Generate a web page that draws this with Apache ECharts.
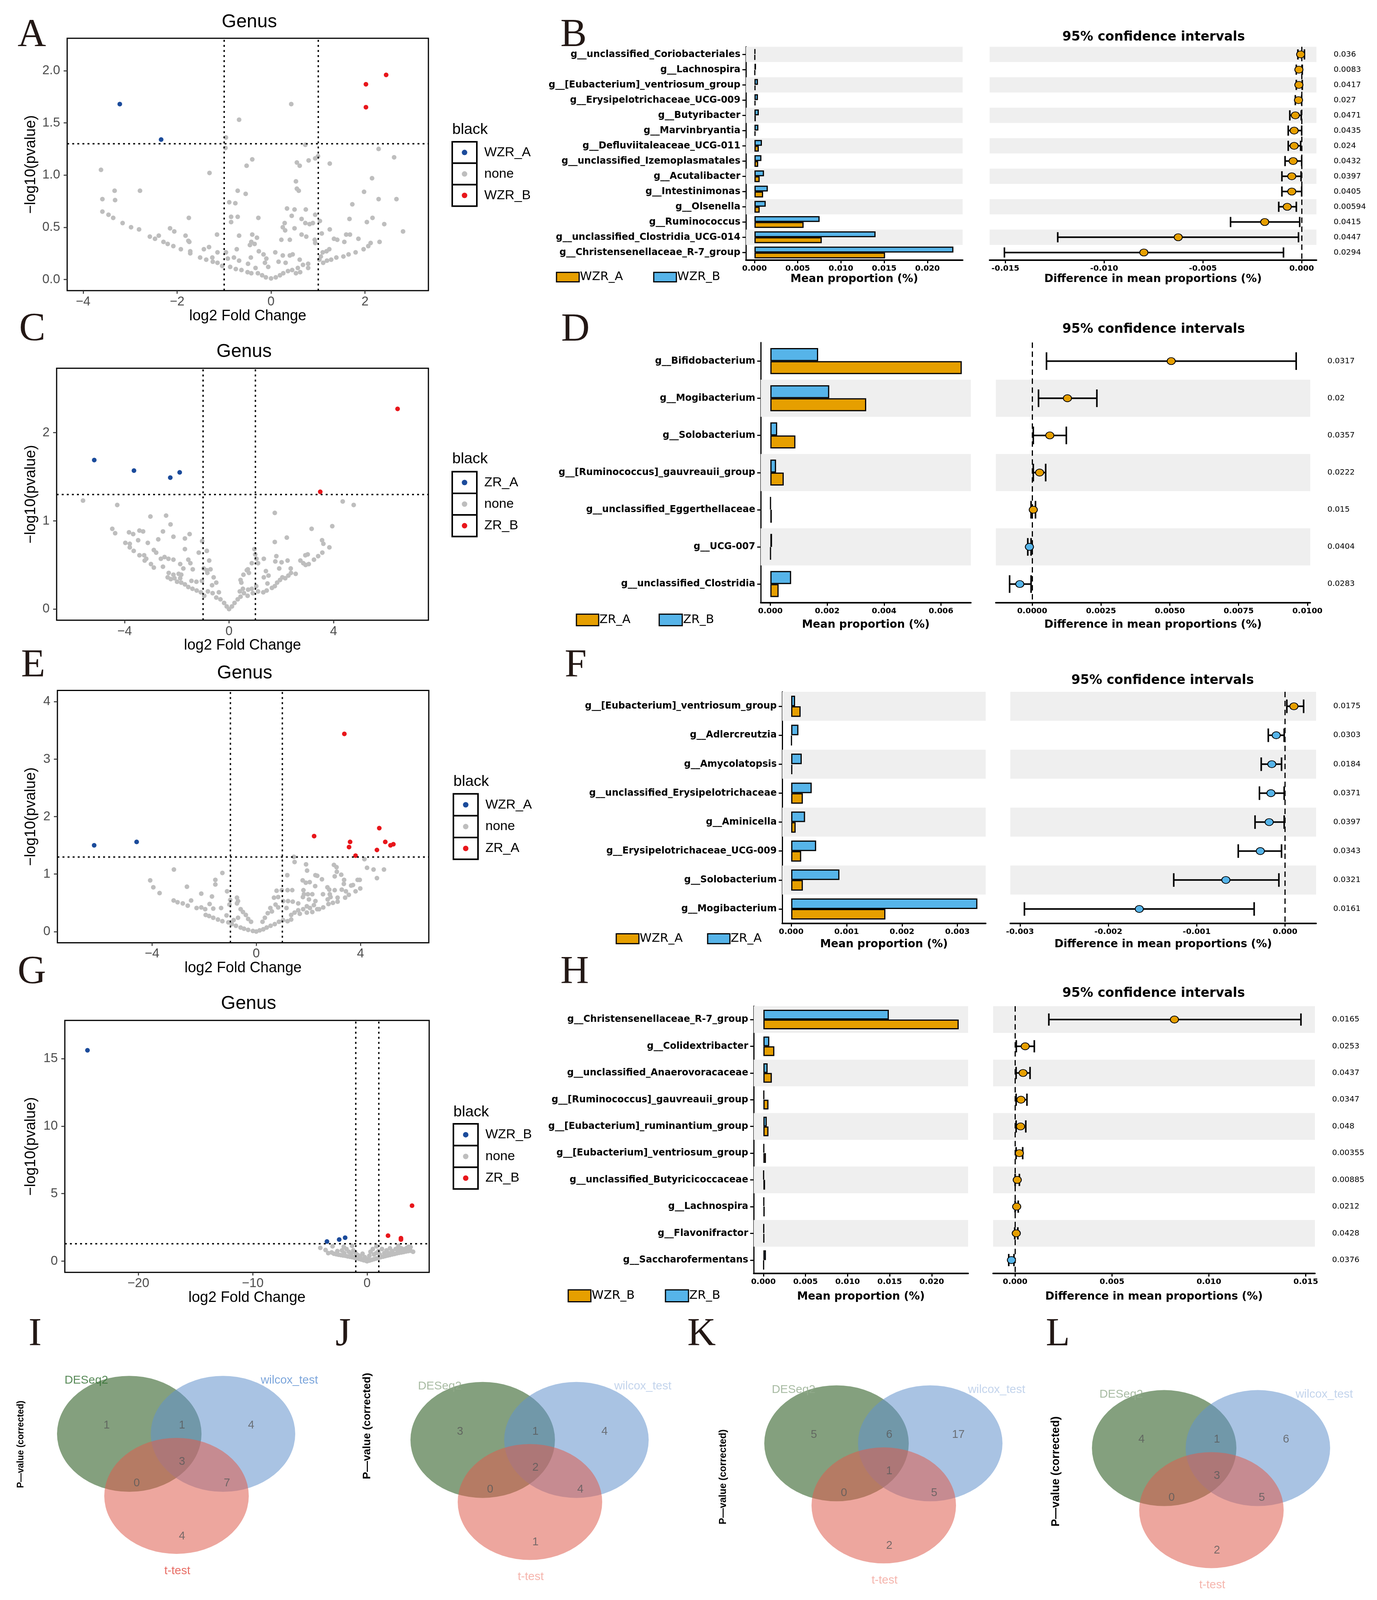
<!DOCTYPE html>
<html lang="en" style="height: 100%">
<head>
    <meta charset="UTF-8">
    <title>Genus differential abundance</title>
    <script src="https://cdn.jsdelivr.net/npm/echarts@6.0.0/dist/echarts.min.js"></script>
</head>
<body style="margin: 0; height: 100%; overflow: hidden">
<div id="main" style="width: 3526px; height: 100%"></div>
<script>
    // ---------- volcano plots (log2 fold change, -log10 p) ----------
    var volA_gray = [[0.43,1.68],[-0.68,1.53],[-0.96,1.36],[-0.97,1.26],[0.73,1.29],[2.29,1.25],[2.62,1.17],[1.0,1.18],[0.94,1.16],[0.80,1.14],[1.25,1.11],[-0.40,1.15],[-0.52,1.09],[0.55,1.12],[0.61,1.09],[-3.62,1.05],[-1.31,1.02],[2.15,0.97],[0.53,0.94],[-3.33,0.85],[-2.79,0.85],[0.55,0.87],[0.59,0.85],[-0.71,0.85],[-0.54,0.82],[1.98,0.84],[-3.59,0.77],[-3.32,0.76],[2.29,0.77],[2.67,0.77],[-0.89,0.74],[-0.76,0.73],[1.73,0.72],[0.34,0.68],[0.50,0.67],[0.74,0.67],[-3.59,0.65],[-3.46,0.62],[-3.36,0.59],[-1.75,0.59],[-0.85,0.60],[-0.71,0.60],[-0.27,0.59],[0.44,0.61],[0.65,0.58],[0.94,0.62],[1.04,0.56],[1.67,0.58],[2.16,0.59],[2.04,0.55],[2.41,0.53],[2.81,0.46],[-3.16,0.54],[-2.98,0.50],[-2.81,0.48],[-0.85,0.55],[0.29,0.54],[0.73,0.54],[0.89,0.54],[0.82,0.53],[0.25,0.50],[0.30,0.47],[0.50,0.49],[1.25,0.48],[-2.15,0.49],[-2.06,0.46],[-2.58,0.41],[-2.47,0.39],[-2.39,0.42],[-1.82,0.42],[-1.15,0.43],[-0.68,0.42],[-0.40,0.43],[-0.30,0.40],[0.65,0.43],[0.75,0.41],[1.08,0.44],[1.60,0.43],[1.68,0.43],[1.86,0.39],[2.12,0.35],[2.31,0.36],[1.34,0.39],[1.41,0.38],[1.56,0.36],[-2.29,0.36],[-2.20,0.34],[-2.08,0.32],[-1.92,0.29],[-1.76,0.37],[-1.74,0.36],[-1.72,0.27],[-1.72,0.25],[-1.43,0.29],[-1.32,0.31],[-0.42,0.36],[-0.45,0.33],[-0.35,0.34],[0.22,0.38],[0.40,0.38],[0.93,0.38],[0.94,0.35],[1.24,0.29],[1.18,0.27],[1.97,0.29],[2.07,0.32],[1.80,0.26],[1.65,0.24],[1.54,0.22],[1.39,0.21],[1.28,0.19],[1.19,0.18],[1.11,0.16],[1.03,0.19],[1.10,0.26],[1.06,0.22],[-0.73,0.29],[-0.96,0.26],[-1.14,0.26],[-1.51,0.21],[-1.38,0.19],[-1.24,0.17],[-1.14,0.16],[-1.04,0.13],[-1.25,0.21],[-0.92,0.20],[-0.79,0.21],[-0.68,0.18],[-0.87,0.12],[-0.75,0.10],[-0.63,0.09],[-0.50,0.07],[-0.42,0.06],[-0.28,0.06],[-0.19,0.04],[-0.11,0.02],[0.0,0.01],[0.10,0.02],[0.19,0.04],[0.26,0.06],[0.36,0.08],[0.45,0.09],[0.57,0.11],[0.68,0.14],[0.79,0.11],[0.79,0.15],[-0.26,0.27],[-0.16,0.24],[-0.10,0.20],[-0.13,0.16],[-0.06,0.12],[0.09,0.26],[0.16,0.17],[0.25,0.23],[0.31,0.16],[0.40,0.23],[0.46,0.24],[0.61,0.19],[-0.49,0.15],[-0.43,0.21],[-0.33,0.11],[0.53,0.06],[0.62,0.07]];
    var volA_WZR_A = [[-3.22,1.68],[-2.34,1.34]];
    var volA_WZR_B = [[2.02,1.87],[2.45,1.96],[2.02,1.65]];

    var volC_gray = [[-5.59,1.23],[-4.28,1.18],[4.35,1.22],[4.77,1.18],[1.75,1.09],[-3.01,1.05],[-2.41,1.06],[-2.24,0.96],[-4.47,0.91],[-4.36,0.86],[-3.83,0.87],[-3.67,0.85],[-3.43,0.89],[-3.29,0.88],[-2.53,0.88],[-2.13,0.82],[-1.69,0.80],[-1.51,0.85],[3.16,0.91],[3.95,0.94],[2.21,0.81],[1.75,0.76],[3.56,0.78],[3.61,0.74],[3.84,0.70],[-1.03,0.77],[-3.48,0.78],[-2.71,0.79],[-3.97,0.75],[-3.80,0.74],[-3.80,0.70],[-3.11,0.75],[-3.65,0.66],[-2.88,0.67],[-2.79,0.64],[-1.69,0.68],[-1.16,0.64],[-0.85,0.66],[0.97,0.68],[1.00,0.62],[-3.43,0.61],[-3.25,0.61],[-3.17,0.57],[-3.23,0.55],[-2.61,0.57],[-2.47,0.59],[-2.32,0.57],[-2.13,0.56],[-1.56,0.56],[-1.48,0.52],[-0.76,0.55],[1.05,0.57],[1.33,0.57],[1.81,0.60],[1.77,0.54],[2.01,0.53],[2.24,0.55],[2.73,0.55],[2.92,0.61],[3.01,0.62],[3.41,0.60],[3.57,0.64],[3.25,0.56],[2.84,0.52],[2.93,0.50],[3.05,0.51],[0.87,0.52],[1.11,0.52],[-2.99,0.51],[-2.88,0.47],[-2.53,0.48],[-1.87,0.51],[-1.75,0.46],[-1.39,0.45],[-0.97,0.46],[-0.85,0.44],[-0.71,0.45],[0.72,0.45],[0.76,0.41],[1.41,0.43],[1.92,0.46],[2.36,0.46],[2.55,0.40],[-2.31,0.41],[-2.13,0.39],[-1.93,0.40],[-1.83,0.39],[-2.35,0.36],[-2.23,0.34],[-2.09,0.35],[-1.87,0.35],[-1.99,0.31],[-1.83,0.30],[-1.69,0.28],[-1.56,0.25],[-1.40,0.23],[-1.24,0.21],[-1.08,0.19],[-0.95,0.15],[-1.44,0.32],[-1.25,0.31],[-1.04,0.32],[-0.83,0.41],[-0.59,0.36],[-0.49,0.30],[-0.65,0.27],[-0.81,0.20],[-0.63,0.18],[-0.39,0.19],[-0.49,0.13],[-0.33,0.11],[-0.19,0.07],[-0.09,0.03],[0.0,0.0],[0.11,0.03],[0.21,0.07],[0.33,0.11],[0.44,0.14],[0.57,0.18],[0.41,0.20],[0.53,0.23],[0.73,0.22],[0.87,0.23],[0.71,0.15],[0.91,0.18],[1.11,0.20],[1.31,0.19],[1.44,0.21],[1.64,0.24],[1.75,0.26],[1.84,0.30],[1.95,0.33],[2.04,0.36],[2.15,0.35],[2.27,0.38],[2.37,0.41],[0.47,0.30],[0.55,0.39],[0.68,0.44],[1.47,0.29],[1.51,0.38],[1.33,0.36],[0.44,0.33],[1.04,0.26]];
    var volC_ZR_A = [[-5.16,1.69],[-3.64,1.57],[-2.25,1.49],[-1.89,1.55]];
    var volC_ZR_B = [[6.45,2.27],[3.49,1.33]];

    var volE_gray = [[1.44,1.30],[1.47,1.21],[4.15,1.26],[1.91,1.17],[2.98,1.16],[3.08,1.12],[1.95,1.06],[4.25,1.11],[4.50,1.08],[4.90,1.08],[-3.16,1.08],[-1.30,1.02],[3.09,1.04],[3.26,0.99],[1.19,0.98],[2.27,0.98],[2.34,0.97],[3.01,0.96],[2.52,0.91],[3.37,0.90],[3.89,0.90],[3.97,0.90],[4.63,0.93],[-4.07,0.89],[-1.57,0.90],[1.78,0.89],[1.90,0.85],[2.05,0.86],[-1.57,0.82],[-3.95,0.77],[-2.66,0.78],[2.26,0.79],[2.73,0.77],[3.36,0.83],[3.64,0.80],[3.71,0.81],[3.99,0.75],[-3.71,0.67],[-2.11,0.66],[-1.12,0.70],[0.78,0.71],[0.98,0.72],[1.20,0.72],[1.38,0.72],[1.81,0.72],[2.80,0.73],[3.01,0.72],[3.28,0.73],[3.44,0.70],[3.55,0.64],[3.81,0.70],[1.83,0.65],[1.98,0.65],[2.15,0.65],[2.56,0.65],[2.82,0.65],[-1.70,0.61],[-0.74,0.59],[0.68,0.59],[0.84,0.60],[1.79,0.60],[2.85,0.60],[3.12,0.59],[3.41,0.59],[-1.0,0.55],[-0.70,0.53],[1.03,0.53],[1.22,0.53],[1.40,0.52],[2.02,0.56],[2.27,0.53],[2.74,0.56],[3.12,0.52],[-3.17,0.54],[-3.02,0.51],[-2.82,0.49],[-2.63,0.45],[-2.50,0.54],[-1.79,0.48],[-1.03,0.47],[-2.29,0.41],[-2.11,0.42],[-1.96,0.39],[-1.65,0.40],[-1.35,0.41],[-0.74,0.49],[0.74,0.47],[0.84,0.42],[1.16,0.41],[1.61,0.49],[1.94,0.44],[2.06,0.41],[2.21,0.46],[2.34,0.39],[2.57,0.42],[2.77,0.48],[2.94,0.50],[1.80,0.39],[1.61,0.37],[1.47,0.33],[1.34,0.29],[1.67,0.31],[1.94,0.33],[2.15,0.34],[2.41,0.39],[-1.94,0.29],[-1.81,0.27],[-1.65,0.24],[-1.47,0.21],[-1.30,0.18],[-1.14,0.28],[-1.07,0.16],[-0.94,0.13],[-0.78,0.10],[-0.60,0.07],[-0.47,0.05],[-0.31,0.03],[-0.13,0.01],[0.0,0.0],[0.13,0.02],[0.27,0.04],[0.40,0.07],[0.55,0.10],[0.71,0.13],[0.87,0.17],[1.03,0.20],[1.20,0.18],[1.34,0.21],[-0.60,0.39],[-0.51,0.34],[-0.40,0.29],[-0.31,0.22],[-0.20,0.17],[0.33,0.24],[0.44,0.32],[0.54,0.41],[0.60,0.35],[0.24,0.17],[-0.70,0.24],[-0.87,0.20]];
    var volE_WZR_A = [[-6.22,1.50],[-4.59,1.56]];
    var volE_ZR_A = [[3.38,3.44],[2.22,1.66],[4.72,1.80],[3.60,1.56],[3.56,1.47],[4.95,1.56],[4.63,1.42],[5.15,1.50],[5.26,1.52],[3.81,1.32]];

    var volG_gray = [[-4.09,0.99],[-3.63,0.83],[-3.02,1.10],[-2.04,1.07],[-1.31,1.14],[0.82,1.10],[2.74,1.14],[3.63,1.07],[4.02,0.70],[-3.1,0.65],[-2.9,0.55],[-2.7,0.52],[-2.5,0.48],[-2.3,0.45],[-2.1,0.42],[-1.9,0.40],[-1.7,0.36],[-1.5,0.33],[-1.3,0.30],[-1.1,0.26],[-0.9,0.22],[-0.7,0.17],[-0.5,0.12],[-0.3,0.07],[-0.1,0.03],[0.0,0.0],[0.2,0.05],[0.4,0.10],[0.6,0.15],[0.8,0.20],[1.0,0.25],[1.2,0.30],[1.4,0.34],[1.6,0.38],[1.8,0.42],[2.0,0.46],[2.2,0.50],[2.4,0.54],[2.6,0.58],[2.8,0.62],[3.0,0.65],[3.2,0.68],[3.4,0.72],[3.6,0.75],[3.8,0.78],[-2.6,0.75],[-2.2,0.80],[-1.8,0.90],[-1.6,0.70],[-1.4,0.55],[-1.2,0.80],[-1.0,0.60],[-0.8,0.45],[-0.6,0.35],[-0.4,0.55],[-0.2,0.30],[0.2,0.40],[0.3,0.70],[0.5,0.90],[0.6,0.50],[0.8,0.60],[1.0,0.75],[1.3,0.90],[1.5,0.60],[1.7,0.80],[2.0,0.95],[2.2,0.75],[2.5,0.90],[2.7,0.85],[3.0,0.95],[3.3,0.90],[3.5,1.00],[3.8,1.05],[-3.4,0.60],[-2.0,0.60],[-1.0,0.40],[0.1,0.15],[1.1,0.50],[1.9,0.60],[2.9,0.80]];
    var volG_WZR_B = [[-24.45,15.61],[-3.51,1.46],[-2.44,1.60],[-1.92,1.74]];
    var volG_ZR_B = [[3.93,4.11],[1.83,1.89],[2.96,1.70],[2.96,1.60]];

    // ---------- extended error bar plots ----------
    var stampB_names = ['g__unclassified_Coriobacteriales','g__Lachnospira','g__[Eubacterium]_ventriosum_group','g__Erysipelotrichaceae_UCG-009','g__Butyribacter','g__Marvinbryantia','g__Defluviitaleaceae_UCG-011','g__unclassified_Izemoplasmatales','g__Acutalibacter','g__Intestinimonas','g__Olsenella','g__Ruminococcus','g__unclassified_Clostridia_UCG-014','g__Christensenellaceae_R-7_group'];
    var stampB_WZR_A = [0.00008,0.00008,0.00012,0.00012,0.00015,0.00012,0.0005,0.00043,0.0006,0.001,0.0006,0.00568,0.00778,0.0151];
    var stampB_WZR_B = [0.0001,0.00018,0.0004,0.0004,0.0005,0.00045,0.00086,0.0008,0.0011,0.00154,0.0013,0.00753,0.014,0.023];
    var stampB_diff = [-0.00005,-0.00014,-0.00014,-0.00016,-0.00032,-0.00038,-0.00038,-0.00043,-0.0005,-0.0005,-0.00073,-0.00187,-0.00625,-0.00799];
    var stampB_lo = [-0.00019,-0.00027,-0.00027,-0.00032,-0.0006,-0.00068,-0.00068,-0.00084,-0.001,-0.001,-0.00116,-0.0036,-0.01235,-0.01505];
    var stampB_hi = [0.00014,0.00003,0.00003,0.0,-0.00002,0.0,-0.00005,0.0,-0.00003,0.0,-0.00027,-0.0001,-0.00016,-0.00092];
    var stampB_p = ['0.036','0.0083','0.0417','0.027','0.0471','0.0435','0.024','0.0432','0.0397','0.0405','0.00594','0.0415','0.0447','0.0294'];

    var stampD_names = ['g__Bifidobacterium','g__Mogibacterium','g__Solobacterium','g__[Ruminococcus]_gauvreauii_group','g__unclassified_Eggerthellaceae','g__UCG-007','g__unclassified_Clostridia'];
    var stampD_ZR_A = [0.00673,0.00337,0.00088,0.00047,0.00005,0.00001,0.00029];
    var stampD_ZR_B = [0.00168,0.00207,0.00024,0.0002,0.00001,0.00006,0.00073];
    var stampD_diff = [0.00505,0.00128,0.00064,0.00027,0.00004,-0.0001,-0.00045];
    var stampD_lo = [0.00052,0.00023,0.00004,0.00004,-0.00004,-0.00016,-0.00082];
    var stampD_hi = [0.00959,0.00235,0.00124,0.00049,0.00012,-0.00004,-0.00004];
    var stampD_p = ['0.0317','0.02','0.0357','0.0222','0.015','0.0404','0.0283'];

    var stampF_names = ['g__[Eubacterium]_ventriosum_group','g__Adlercreutzia','g__Amycolatopsis','g__unclassified_Erysipelotrichaceae','g__Aminicella','g__Erysipelotrichaceae_UCG-009','g__Solobacterium','g__Mogibacterium'];
    var stampF_WZR_A = [0.00017,0.00001,0.00002,0.00021,0.00008,0.00018,0.00021,0.0017];
    var stampF_ZR_A = [0.00007,0.00013,0.00019,0.00037,0.00025,0.00045,0.00087,0.00336];
    var stampF_diff = [0.0001,-0.0001,-0.00015,-0.00016,-0.00018,-0.00028,-0.00067,-0.00165];
    var stampF_lo = [0.00002,-0.00019,-0.00027,-0.00029,-0.00034,-0.00053,-0.00126,-0.00295];
    var stampF_hi = [0.00021,-0.00001,-0.00004,-0.00001,-0.00001,-0.00004,-0.00007,-0.00035];
    var stampF_p = ['0.0175','0.0303','0.0184','0.0371','0.0397','0.0343','0.0321','0.0161'];

    var stampH_names = ['g__Christensenellaceae_R-7_group','g__Colidextribacter','g__unclassified_Anaerovoracaceae','g__[Ruminococcus]_gauvreauii_group','g__[Eubacterium]_ruminantium_group','g__[Eubacterium]_ventriosum_group','g__unclassified_Butyricicoccaceae','g__Lachnospira','g__Flavonifractor','g__Saccharofermentans'];
    var stampH_WZR_B = [0.0232,0.0013,0.001,0.0006,0.0006,0.0003,0.0002,0.00015,0.0001,0.00005];
    var stampH_ZR_B = [0.0149,0.0007,0.0005,0.0001,0.0004,0.0001,0.00005,0.0001,0.00008,0.0003];
    var stampH_diff = [0.00822,0.00052,0.00041,0.0003,0.00028,0.00022,0.00011,0.00008,0.00006,-0.00019];
    var stampH_lo = [0.00174,0.00006,0.00005,0.00005,0.00005,0.00005,0.0,0.0,-0.00002,-0.00033];
    var stampH_hi = [0.01475,0.00099,0.00077,0.00061,0.00055,0.00039,0.00022,0.00016,0.00014,-0.00006];
    var stampH_p = ['0.0165','0.0253','0.0437','0.0347','0.048','0.00355','0.00885','0.0212','0.0428','0.0376'];

    // ---------- venn counts: D only, D&W, W only, all, D&T, W&T, T only ----------
    var vennSetNames = ['DESeq2', 'wilcox_test', 't-test'];
    var vennI_counts = [1, 1, 4, 3, 0, 7, 4];
    var vennJ_counts = [3, 1, 4, 2, 0, 4, 1];
    var vennK_counts = [5, 6, 17, 1, 0, 5, 2];
    var vennL_counts = [4, 1, 6, 3, 0, 5, 2];

    var SANS = "'Liberation Sans', Arial, sans-serif";
    var WIDE = "'DejaVu Sans', Verdana, sans-serif";
    var SERIF = "'Liberation Serif', 'Times New Roman', serif";
    var ORANGE = '#E69F00', BLUE = '#56B4E9';
    var V_BLUE = '#1b4b9b', V_RED = '#e8161b', V_GRAY = '#bebebe';

    // the layout was measured on a 4718 px tall figure; squeeze it to the real viewport height
    var SY = (window.innerHeight || 4718) / 4718;
    var FS = Math.sqrt(SY);
    function sy(v) { return v * SY; }
    function fs(v) { return Math.round(v * FS); }

    var grid = [], xAxis = [], yAxis = [], series = [], graphic = [];

    function addText(x, y, s, size, o) {
        o = o || {};
        graphic.push({
            type: 'text', x: x, y: sy(y), rotation: o.rot || 0, z: 10, silent: true,
            style: {
                text: s, fontSize: fs(size), fontFamily: o.family || SANS, fontWeight: o.weight || 'normal',
                fill: o.color || '#000', textAlign: o.align || 'left', textVerticalAlign: 'middle'
            }
        });
    }

    function minusFmt(dec) {
        return function (v) { return (v < 0 ? '\u2212' : '') + Math.abs(v).toFixed(dec); };
    }

    function volcano(p) {
        var gi = grid.length, b = p.box;
        grid.push({left: b[0], top: sy(b[1]), width: b[2] - b[0], height: sy(b[3] - b[1]), show: true,
            borderColor: '#000', borderWidth: 3, outerBoundsMode: 'none'});
        xAxis.push({
            gridIndex: gi, type: 'value', min: p.xr[0], max: p.xr[1], splitLine: {show: false},
            axisLine: {show: false, onZero: false},
            axisTick: {show: true, customValues: p.xt, length: 8, lineStyle: {color: '#333', width: 2.5}},
            axisLabel: {customValues: p.xt, formatter: minusFmt(0), color: '#4d4d4d', fontSize: fs(35), margin: sy(14)},
            name: 'log2 Fold Change', nameLocation: 'middle', nameGap: sy(52),
            nameTextStyle: {fontSize: fs(41), color: '#000'}
        });
        yAxis.push({
            gridIndex: gi, type: 'value', min: p.yr[0], max: p.yr[1], splitLine: {show: false},
            axisLine: {show: false, onZero: false},
            axisTick: {show: true, customValues: p.yt, length: 9, lineStyle: {color: '#333', width: 2.5}},
            axisLabel: {customValues: p.yt, formatter: minusFmt(p.ydec), color: '#4d4d4d', fontSize: fs(35), margin: 18},
            name: '\u2212log10(pvalue)', nameLocation: 'middle', nameGap: p.yng,
            nameTextStyle: {fontSize: fs(41), color: '#000'}
        });
        series.push({
            type: 'scatter', xAxisIndex: gi, yAxisIndex: gi, data: p.gray, symbolSize: 12, silent: true,
            itemStyle: {color: V_GRAY, opacity: 1},
            markLine: {
                silent: true, symbol: ['none', 'none'], label: {show: false},
                lineStyle: {color: '#000', type: [5, 8], width: 3.5},
                data: [{xAxis: -1}, {xAxis: 1}, {yAxis: 1.3}]
            }
        });
        series.push({type: 'scatter', xAxisIndex: gi, yAxisIndex: gi, data: p.down, symbolSize: 12, silent: true,
            itemStyle: {color: V_BLUE, opacity: 1}});
        series.push({type: 'scatter', xAxisIndex: gi, yAxisIndex: gi, data: p.up, symbolSize: 12, silent: true,
            itemStyle: {color: V_RED, opacity: 1}});

        addText((b[0] + b[2]) / 2 + 4, p.titleY, 'Genus', 52, {align: 'center'});
        addText(p.letter[1], p.letter[2], p.letter[0], 108, {family: SERIF, color: '#231815'});

        // legend
        var lx = p.leg[0], kw = 63, kh = sy(p.leg[3]);
        addText(lx, p.leg[1], 'black', 42);
        var cols = [V_BLUE, V_GRAY, V_RED];
        for (var k = 0; k < 3; k++) {
            var top = sy(p.leg[2]) + k * kh;
            graphic.push({type: 'rect', z: 9, silent: true, shape: {x: lx, y: top, width: kw, height: kh},
                style: {fill: '#fff', stroke: '#000', lineWidth: 4}});
            graphic.push({type: 'circle', z: 10, silent: true, shape: {cx: lx + kw / 2, cy: top + kh / 2, r: 7},
                style: {fill: cols[k]}});
            addText(lx + kw + 19, (top + kh / 2) / SY, p.labels[k], 36);
        }
    }

    function stamp(p) {
        var n = p.names.length, h = sy(p.bottom - p.top);
        var g1 = grid.length, g2 = g1 + 1;
        grid.push({left: p.bar[0], top: sy(p.top), width: p.bar[1] - p.bar[0], height: h, outerBoundsMode: 'none'});
        grid.push({left: p.ci[0], top: sy(p.top), width: p.ci[1] - p.ci[0], height: h, outerBoundsMode: 'none'});

        function xa(gi, r, ticks, dec, name) {
            return {
                gridIndex: gi, type: 'value', min: r[0], max: r[1], splitLine: {show: false},
                axisLine: {show: true, onZero: false, lineStyle: {color: '#000', width: 4}},
                axisTick: {show: true, customValues: ticks, length: 8, lineStyle: {color: '#000', width: 3}},
                axisLabel: {customValues: ticks, formatter: function (v) { return v.toFixed(dec); },
                    color: '#000', fontSize: fs(21), fontWeight: 'bold', fontFamily: WIDE, margin: sy(14)},
                name: name, nameLocation: 'middle', nameGap: sy(p.ng),
                nameTextStyle: {fontSize: fs(30), fontWeight: 'bold', fontFamily: WIDE, color: '#000'}
            };
        }
        xAxis.push(xa(g1, p.barX, p.barT, p.barD, 'Mean proportion (%)'));
        xAxis.push(xa(g2, p.ciX, p.ciT, p.ciD, 'Difference in mean proportions (%)'));
        yAxis.push({
            gridIndex: g1, type: 'category', data: p.names, inverse: true,
            axisLine: {show: true, onZero: false, lineStyle: {color: '#000', width: 3}},
            axisTick: {show: true, alignWithLabel: true, length: 9, lineStyle: {color: '#000', width: 3}},
            axisLabel: {fontSize: fs(26), fontWeight: 'bold', fontFamily: WIDE, color: '#000', margin: 14, interval: 0}
        });
        yAxis.push({
            gridIndex: g2, type: 'category', data: p.names, inverse: true, position: 'right',
            axisLine: {show: false}, axisTick: {show: false},
            axisLabel: {fontSize: fs(22), fontFamily: WIDE, color: '#000', margin: 44, interval: 0,
                formatter: function (v, i) { return p.pv[i]; }}
        });

        // alternating grey bands, bottom row left white
        var bands = [];
        for (var i = 0; i < n; i++) if ((n - 1 - i) % 2 === 1) bands.push([0, i]);
        [g1, g2].forEach(function (gi) {
            series.push({
                type: 'custom', xAxisIndex: gi, yAxisIndex: gi, data: bands, encode: {x: 0, y: 1},
                z: 1, silent: true,
                renderItem: function (params, api) {
                    var c = api.coord([api.value(0), api.value(1)]);
                    var bh = api.size([0, 1])[1];
                    var cs = params.coordSys;
                    return {type: 'rect', shape: {x: cs.x, y: c[1] - bh / 2, width: cs.width, height: bh},
                        style: {fill: '#efefef'}};
                }
            });
        });

        series.push({type: 'bar', name: p.lb, xAxisIndex: g1, yAxisIndex: g1, data: p.b, z: 3, silent: true,
            barGap: '0%', barCategoryGap: p.gap,
            itemStyle: {color: BLUE, borderColor: '#000', borderWidth: 3}});
        series.push({type: 'bar', name: p.la, xAxisIndex: g1, yAxisIndex: g1, data: p.a, z: 3, silent: true,
            barGap: '0%', barCategoryGap: p.gap,
            itemStyle: {color: ORANGE, borderColor: '#000', borderWidth: 3}});

        series.push({
            type: 'custom', xAxisIndex: g2, yAxisIndex: g2, z: 4, silent: true,
            data: p.lo.map(function (v, i) { return [v, p.hi[i], i]; }),
            encode: {x: [0, 1], y: 2},
            renderItem: function (params, api) {
                var a = api.coord([api.value(0), api.value(2)]);
                var b = api.coord([api.value(1), api.value(2)]);
                var ch = sy(p.cap), st = {stroke: '#000', lineWidth: 4};
                return {type: 'group', children: [
                    {type: 'line', shape: {x1: a[0], y1: a[1], x2: b[0], y2: b[1]}, style: st},
                    {type: 'line', shape: {x1: a[0], y1: a[1] - ch, x2: a[0], y2: a[1] + ch}, style: st},
                    {type: 'line', shape: {x1: b[0], y1: b[1] - ch, x2: b[0], y2: b[1] + ch}, style: st}
                ]};
            }
        });
        series.push({
            type: 'scatter', xAxisIndex: g2, yAxisIndex: g2, z: 5, silent: true, symbolSize: [21, Math.round(sy(21))],
            data: p.diff.map(function (v, i) { return [v, i]; }),
            itemStyle: {
                color: function (d) { return (p.allOrange || d.value[0] > 0) ? ORANGE : BLUE; },
                borderColor: '#000', borderWidth: 2, opacity: 1
            },
            markLine: {silent: true, symbol: ['none', 'none'], label: {show: false},
                lineStyle: {color: '#000', type: [14, 9], width: 3}, data: [{xAxis: 0}]}
        });

        addText(p.title[0], p.title[1], '95% confidence intervals', 35, {weight: 'bold', align: 'center', family: WIDE});
        addText(p.letter[1], p.letter[2], p.letter[0], 108, {family: SERIF, color: '#231815'});
        [[p.leg.o, ORANGE, p.la], [p.leg.b, BLUE, p.lb]].forEach(function (k) {
            graphic.push({type: 'rect', z: 9, silent: true,
                shape: {x: k[0][0], y: sy(p.leg.y - p.leg.h / 2), width: k[0][1] - k[0][0], height: sy(p.leg.h)},
                style: {fill: k[1], stroke: '#000', lineWidth: 3}});
            addText(k[0][1] + 2, p.leg.y, k[2], 33, {family: WIDE});
        });
    }

    var vennLayout = {
        circles: [[0, 0], [240, 0], [121, 183]], rx: 185, ry: 171,
        regions: [[-58, -25], [135, -25], [312, -25], [135, 82], [19, 146], [250, 146], [135, 302]],
        names: [[-110, -158], [410, -158], [123, 404]]
    };
    var VENN_FILL = ['rgba(31,82,20,0.55)', 'rgba(99,146,204,0.55)', 'rgba(222,93,79,0.55)'];

    function venn(p) {
        var gi = grid.length;
        grid.push({left: p.o[0] - 300, top: sy(p.o[1] - 300), width: 900, height: sy(900), outerBoundsMode: 'none'});
        xAxis.push({gridIndex: gi, type: 'value', min: -300, max: 600, show: false});
        yAxis.push({gridIndex: gi, type: 'value', min: -300, max: 600, inverse: true, show: false});
        series.push({
            type: 'custom', xAxisIndex: gi, yAxisIndex: gi, silent: true, encode: {x: 0, y: 1},
            data: vennLayout.circles.map(function (c, i) { return [c[0], c[1], i]; }),
            renderItem: function (params, api) {
                var c = api.coord([api.value(0), api.value(1)]);
                var s = api.size([vennLayout.rx, vennLayout.ry]);
                var rx = Math.abs(s[0]), ry = Math.abs(s[1]);
                return {type: 'circle', x: c[0], y: c[1], scaleY: ry / rx, shape: {cx: 0, cy: 0, r: rx},
                    style: {fill: VENN_FILL[api.value(2)]}};
            }
        });
        series.push({
            type: 'scatter', xAxisIndex: gi, yAxisIndex: gi, silent: true, symbolSize: 1, z: 5,
            itemStyle: {color: 'rgba(0,0,0,0)'},
            data: vennLayout.regions.map(function (q, i) { return {value: q, label: {formatter: String(p.counts[i])}}; }),
            label: {show: true, position: 'inside', fontSize: fs(31), color: '#5a5a5a'}
        });
        series.push({
            type: 'scatter', xAxisIndex: gi, yAxisIndex: gi, silent: true, symbolSize: 1, z: 5,
            itemStyle: {color: 'rgba(0,0,0,0)'},
            data: vennLayout.names.map(function (q, i) {
                return {value: q, label: {formatter: vennSetNames[i], color: p.nameColors[i]}};
            }),
            label: {show: true, position: 'inside', fontSize: fs(32)}
        });
        addText(p.yl[0], p.yl[1], 'P\u2014value (corrected)', p.yl[2], {weight: 'bold', rot: Math.PI / 2, align: 'center'});
        addText(p.letter[1], p.letter[2], p.letter[0], 108, {family: SERIF, color: '#231815'});
    }

    volcano({box: [172, 113, 1097, 857], xr: [-4.34, 3.35], xt: [-4, -2, 0, 2], yr: [-0.107, 2.31], yt: [0, 0.5, 1, 1.5, 2], ydec: 1, yng: 73,
        gray: volA_gray, down: volA_WZR_A, up: volA_WZR_B, titleY: 65, letter: ['A', 45, 105],
        leg: [1158, 383, 418, 63.3], labels: ['WZR_A', 'none', 'WZR_B']});
    volcano({box: [145, 1086, 1097, 1829], xr: [-6.6, 7.63], xt: [-4, 0, 4], yr: [-0.127, 2.73], yt: [0, 1, 2], ydec: 0, yng: 46,
        gray: volC_gray, down: volC_ZR_A, up: volC_ZR_B, titleY: 1038, letter: ['C', 49, 973],
        leg: [1158, 1354, 1391, 63.7], labels: ['ZR_A', 'none', 'ZR_B']});
    volcano({box: [147, 2036, 1098, 2780], xr: [-7.63, 6.62], xt: [-4, 0, 4], yr: [-0.195, 4.195], yt: [0, 1, 2, 3, 4], ydec: 0, yng: 48,
        gray: volE_gray, down: volE_WZR_A, up: volE_ZR_A, titleY: 1986, letter: ['E', 54, 1965],
        leg: [1161, 2305, 2341, 64.3], labels: ['WZR_A', 'none', 'ZR_A']});
    volcano({box: [166, 3009, 1099, 3752], xr: [-26.43, 5.43], xt: [-20, -10, 0], yr: [-0.83, 17.82], yt: [0, 5, 10, 15], ydec: 0, yng: 67,
        gray: volG_gray, down: volG_WZR_B, up: volG_ZR_B, titleY: 2960, letter: ['G', 45, 2869],
        leg: [1161, 3280, 3314, 64], labels: ['WZR_B', 'none', 'ZR_B']});

    stamp({names: stampB_names, a: stampB_WZR_A, b: stampB_WZR_B, diff: stampB_diff, lo: stampB_lo, hi: stampB_hi, pv: stampB_p,
        la: 'WZR_A', lb: 'WZR_B', top: 138, bottom: 767, bar: [1910, 2465], ci: [2534, 3371], allOrange: true,
        barX: [-0.00099, 0.02407], barT: [0, 0.005, 0.01, 0.015, 0.02], barD: 3,
        ciX: [-0.0158, 0.00075], ciT: [-0.015, -0.01, -0.005, 0], ciD: 3, gap: '23%', cap: 15, ng: 40,
        title: [2954, 110], letter: ['B', 1435, 105], leg: {y: 817, h: 28, o: [1425, 1483], b: [1674, 1732]}});
    stamp({names: stampD_names, a: stampD_ZR_A, b: stampD_ZR_B, diff: stampD_diff, lo: stampD_lo, hi: stampD_hi, pv: stampD_p,
        la: 'ZR_A', lb: 'ZR_B', top: 1010, bottom: 1777, bar: [1948, 2486], ci: [2550, 3355],
        barX: [-0.000338, 0.00705], barT: [0, 0.002, 0.004, 0.006], barD: 3,
        ciX: [-0.00132, 0.0101], ciT: [0, 0.0025, 0.005, 0.0075, 0.01], ciD: 4, gap: '30%', cap: 26, ng: 50,
        title: [2954, 972], letter: ['D', 1437, 974], leg: {y: 1828, h: 34, o: [1476, 1533], b: [1688, 1747]}});
    stamp({names: stampF_names, a: stampF_WZR_A, b: stampF_ZR_A, diff: stampF_diff, lo: stampF_lo, hi: stampF_hi, pv: stampF_p,
        la: 'WZR_A', lb: 'ZR_A', top: 2040, bottom: 2723, bar: [2003, 2524], ci: [2587, 3370],
        barX: [-0.000162, 0.00351], barT: [0, 0.001, 0.002, 0.003], barD: 3,
        ciX: [-0.00311, 0.000351], ciT: [-0.003, -0.002, -0.001, 0], ciD: 3, gap: '27%', cap: 20, ng: 46,
        title: [2977, 2007], letter: ['F', 1446, 1965], leg: {y: 2768, h: 29, o: [1578, 1636], b: [1812, 1869]}});
    stamp({names: stampH_names, a: stampH_WZR_B, b: stampH_ZR_B, diff: stampH_diff, lo: stampH_lo, hi: stampH_hi, pv: stampH_p,
        la: 'WZR_B', lb: 'ZR_B', top: 2967, bottom: 3755, bar: [1930, 2479], ci: [2543, 3367],
        barX: [-0.00115, 0.02432], barT: [0, 0.005, 0.01, 0.015, 0.02], barD: 3,
        ciX: [-0.001136, 0.01547], ciT: [0, 0.005, 0.01, 0.015], ciD: 3, gap: '27%', cap: 18, ng: 53,
        title: [2954, 2930], letter: ['H', 1435, 2869], leg: {y: 3821, h: 35, o: [1455, 1513], b: [1704, 1763]}});

    var strongNames = ['#2f6e2f', '#5a8fd2', '#e2493f'];
    var paleNames = ['#93ab8d', '#b4c9e7', '#f2a299'];
    venn({o: [331, 4228], counts: vennI_counts, nameColors: strongNames, yl: [54, 4259, 25], letter: ['I', 73, 3937]});
    venn({o: [1236, 4246], counts: vennJ_counts, nameColors: paleNames, yl: [940, 4205, 30], letter: ['J', 859, 3937]});
    venn({o: [2142, 4256], counts: vennK_counts, nameColors: paleNames, yl: [1852, 4355, 27], letter: ['K', 1760, 3937]});
    venn({o: [2981, 4270], counts: vennL_counts, nameColors: paleNames, yl: [2704, 4339, 31], letter: ['L', 2678, 3937]});

    var myChart = echarts.init(document.getElementById('main'));
    myChart.setOption({
        animation: false,
        backgroundColor: '#fff',
        textStyle: {fontFamily: SANS},
        grid: grid,
        xAxis: xAxis,
        yAxis: yAxis,
        series: series,
        graphic: graphic
    });
</script>
</body>
</html>
